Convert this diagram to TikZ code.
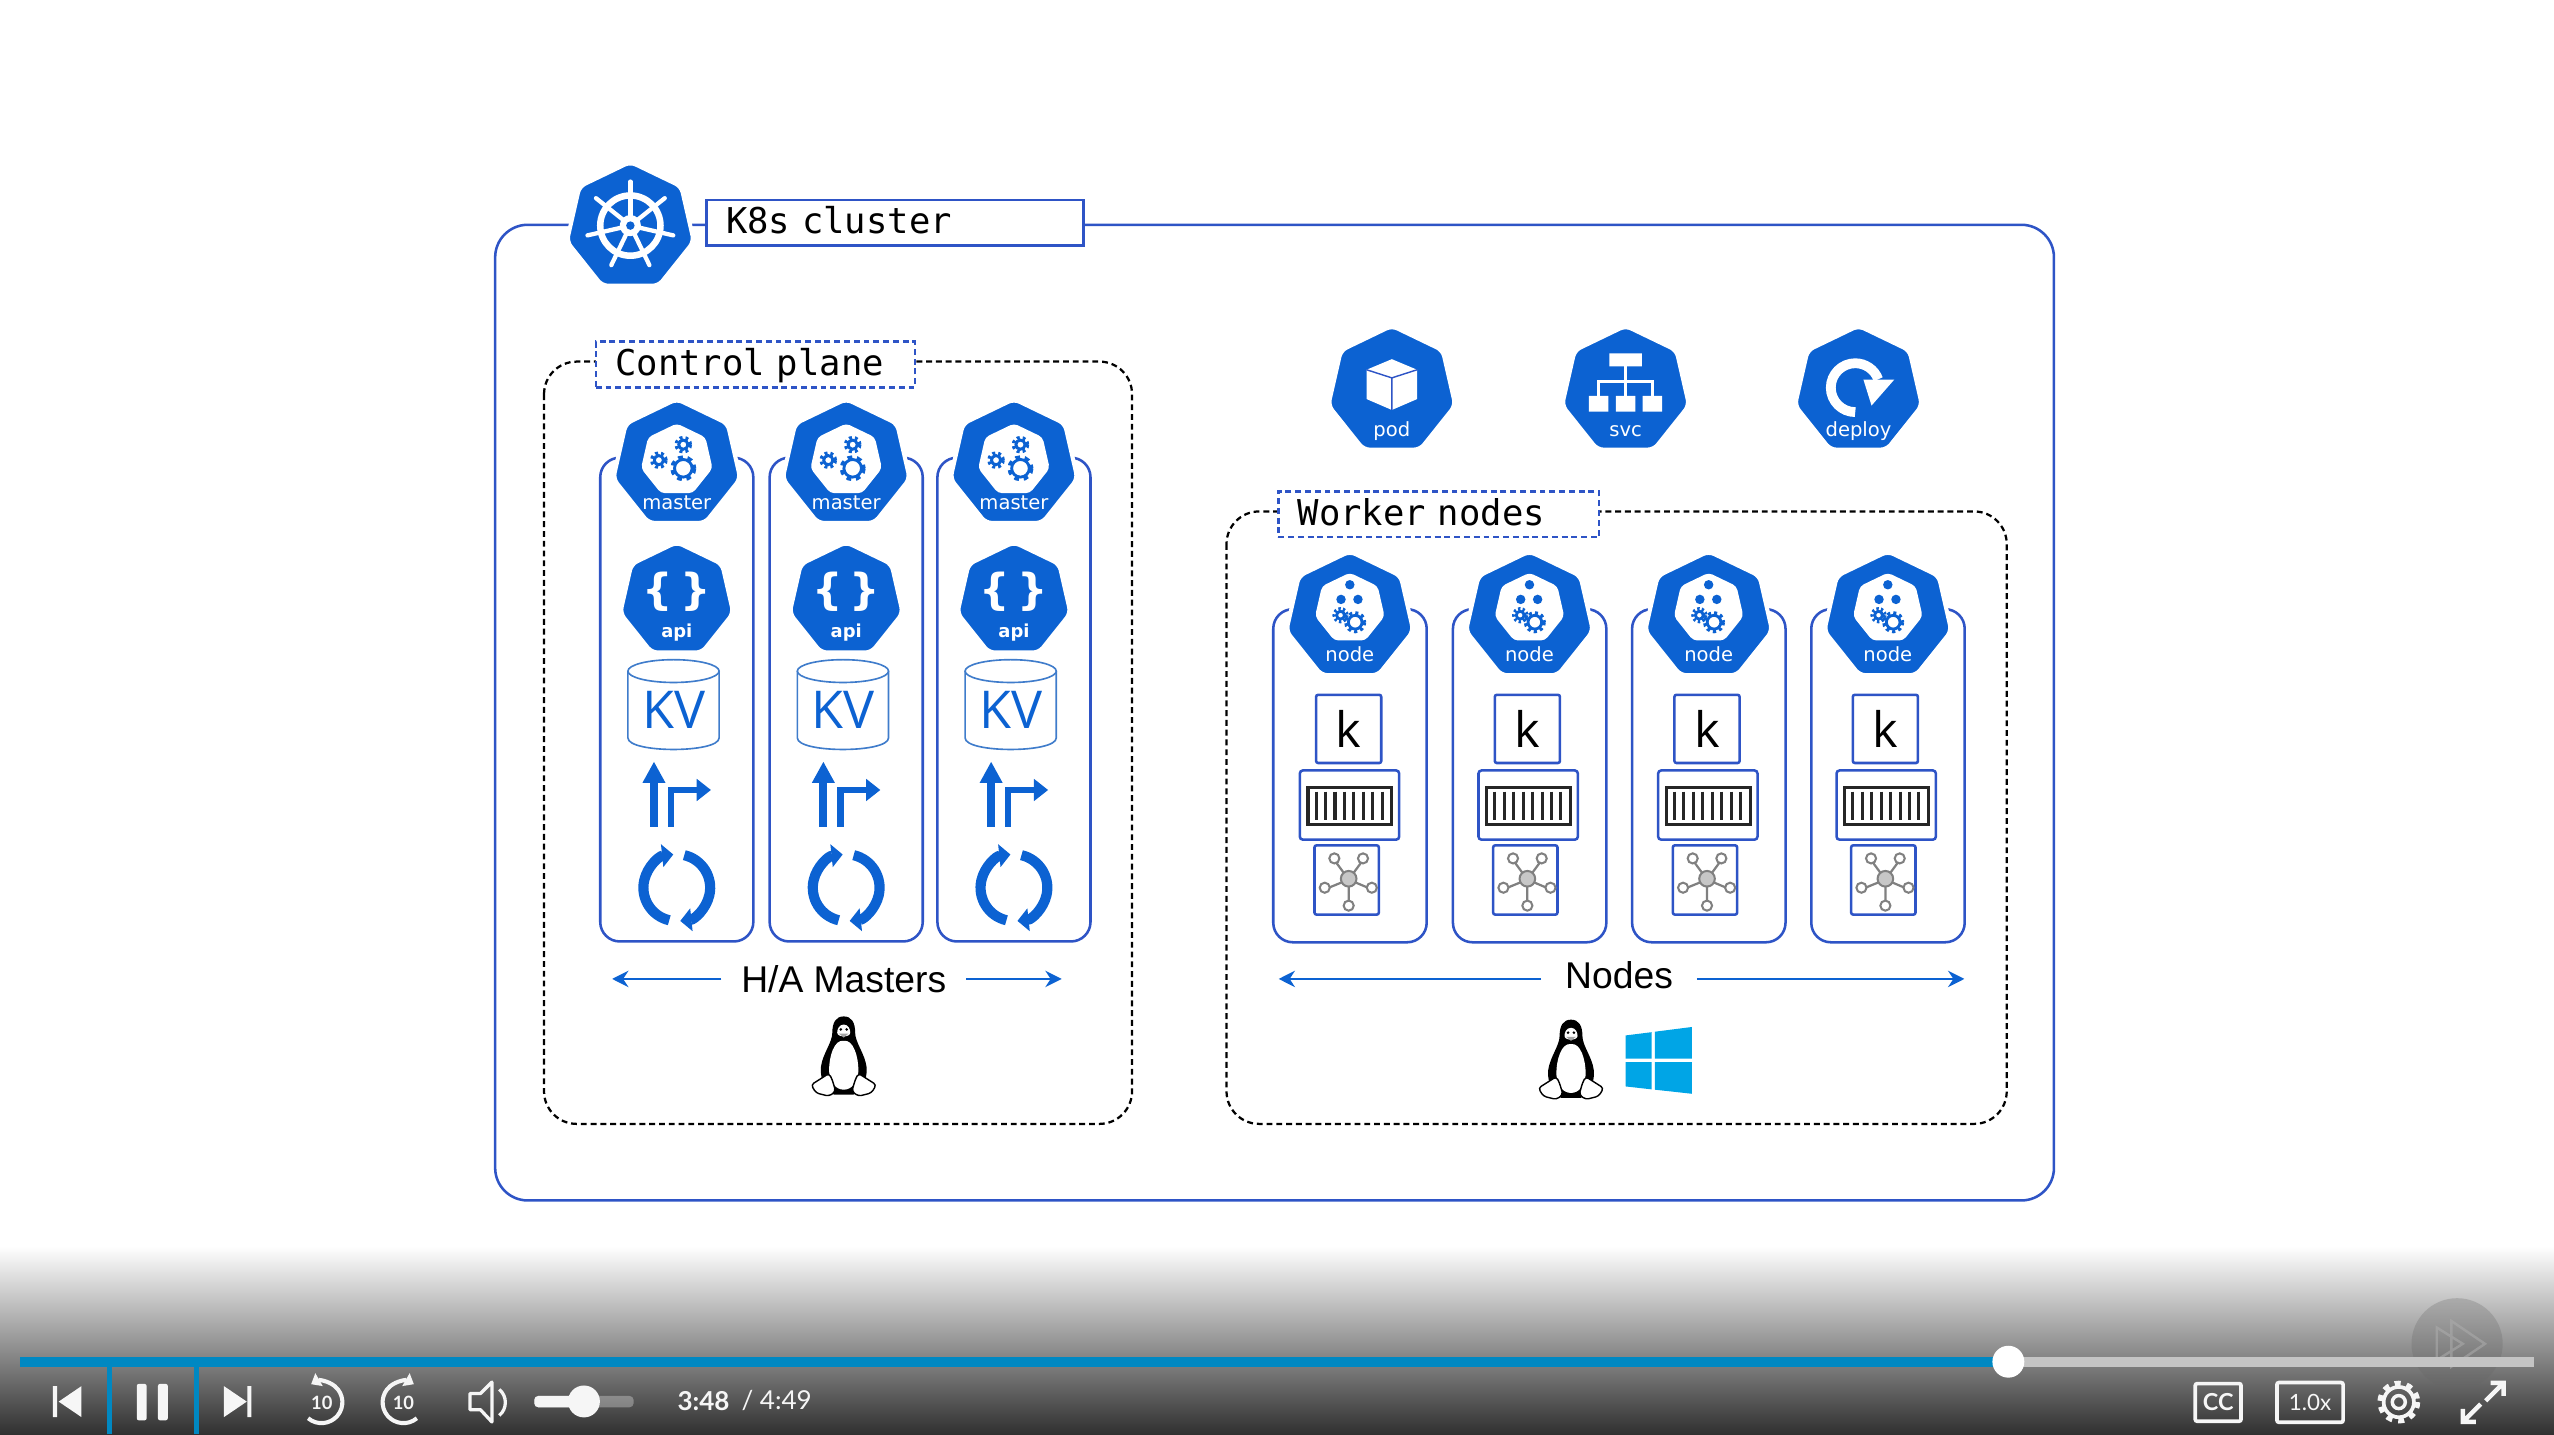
\documentclass[tikz,border=0pt]{standalone}
\usepackage{fontspec}
\setmainfont{Liberation Sans}
\setmonofont{DejaVu Sans Mono}
\newfontfamily\iconfont{DejaVu Sans}
\newfontfamily\kvfont{Open Sans}
\newfontfamily\playerfont{Lato}
\usepackage{tikz}
\usetikzlibrary{shapes.geometric,positioning,arrows.meta,calc}
\definecolor{kubeblue}{HTML}{0C62D2}
\definecolor{frameblue}{HTML}{2E54C6}
\definecolor{kvblue}{HTML}{3F7CCB}
\definecolor{playerblue}{HTML}{0088C2}
\definecolor{winblue}{HTML}{00A5E6}
\definecolor{netgray}{HTML}{808080}
\definecolor{playergray}{HTML}{C4C4C4}
\definecolor{playerwhite}{HTML}{F6F6F6}

% heptagon with its caption: name, position, caption
\def\kubehept#1#2#3{
  \node[hept] (#1) at (#2) {};
  \node[heptlabel] (#1label) at ([yshift=-19.8pt]#1.center) {#3};
}
% cog: position, ring radius, tooth length
\def\cog#1#2#3{
  \path[draw=kubeblue,line width=1.4pt] (#1) circle (#2);
  \path[draw=kubeblue,line width=1.9pt,dash pattern=on #3 off #3] (#1) circle (#2+1.4);
}
% tux: position
\def\tux#1{
  \begin{scope}[shift={(#1)}]
    \path[fill=black] (0,-25) .. controls (5,-25) and (7,-21) .. (7,-15) .. controls (7,-9) and (13,-2) .. (14,6) .. controls (15,14) and (10,21) .. (6,23) -- (-6,23) .. controls (-10,21) and (-15,14) .. (-14,6) .. controls (-13,-2) and (-7,-9) .. (-7,-15) .. controls (-7,-21) and (-5,-25) .. (0,-25) -- cycle;
    \path[fill=white] (0,-10) .. controls (6,-11) and (9,0) .. (9,8) .. controls (9,15) and (5,20) .. (0,20) .. controls (-5,20) and (-9,15) .. (-9,8) .. controls (-9,0) and (-6,-11) .. (0,-10) -- cycle;
    \path[fill=white] (0,-20) .. controls (3,-20) and (4,-17) .. (4,-15) .. controls (4,-12) and (-4,-12) .. (-4,-15) .. controls (-4,-17) and (-3,-20) .. (0,-20) -- cycle;
    \path[fill=black] (-1.8,-17) circle (0.9) (1.8,-17) circle (0.9);
    \path[fill=black!35] (-3,-14.5) -- (3,-14.5) -- (0,-12) -- cycle;
    \path[draw=black,fill=white,line width=0.7pt,rounded corners=1.5pt] (-9,10) -- (-20,17) -- (-17,22) -- (-9,24) -- (-5,21) -- (-7,14) -- cycle;
    \path[draw=black,fill=white,line width=0.7pt,rounded corners=1.5pt] (9,10) -- (20,17) -- (17,22) -- (9,24) -- (5,21) -- (7,14) -- cycle;
  \end{scope}
}

\begin{document}
\begin{tikzpicture}[
    x=0.8pt, y=-0.8pt,
    frameline/.style={draw=frameblue,line width=1.25pt},
    dashframe/.style={draw=black,line width=1.1pt,dash pattern=on 2.9pt off 1.9pt,rounded corners=16pt},
    monotag/.style={anchor=north west,fill=white,inner xsep=9.6pt,inner ysep=3.2pt,align=left,text height=13.5pt,text depth=2.5pt,font=\ttfamily\fontsize{17.45}{20}\selectfont},
    hept/.style={regular polygon,regular polygon sides=7,minimum size=64pt,inner sep=0pt,fill=kubeblue,draw=white,line width=2pt,rounded corners=3pt},
    innerhept/.style={regular polygon,regular polygon sides=7,minimum size=36pt,inner sep=0pt,fill=white,rounded corners=2pt},
    heptlabel/.style={text=white,inner sep=0pt,text height=7pt,text depth=2pt,font=\iconfont\fontsize{9.6}{11}\selectfont},
    sidelabel/.style={inner ysep=0pt,text height=13.2pt,text depth=0pt,font=\fontsize{18.3}{20}\selectfont},
    sidearrow/.style={draw=kubeblue,line width=1.3pt,-{Stealth[length=8pt,width=8pt]}},
    looparrow/.style={draw=kubeblue,line width=5pt,-{Triangle[length=5.5pt,width=11pt]}},
    playerline/.style={draw=playerwhite,line width=1.6pt},
    playertext/.style={text=playerwhite,inner sep=0pt,font=\playerfont\fontsize{12.8}{14}\selectfont}
  ]
  \path[use as bounding box] (0,0) rectangle (1568,880.4);

  % outer frame
  \path[frameline,rounded corners=16pt] (304,138) rectangle (1261,737);
  \kubehept{clusterhept}{387,139.4}{}
  \foreach \spoke in {0,...,6}{
    \path[draw=white,line width=2.1pt,line cap=round] (387,138.5) -- ++({-90+\spoke*360/7}:27);
  }
  \path[draw=white,line width=3.2pt] (387,138.5) circle (18.5);
  \path[fill=white] (387,138.5) circle (6.5);
  \path[fill=kubeblue] (387,138.5) circle (2.6);
  \node[monotag,frameline,text width=166pt] (clustertag) at (433,122) {K8s cluster};

  % control plane
  \path[dashframe] (334,222) rectangle (695,690);
  \node[monotag,frameline,dash pattern=on 2.9pt off 1.9pt,text width=137.6pt] (controltag) at (365,209) {Control plane};

  \foreach \cx/\ci in {415.5/1,519.5/2,622.5/3}{
    \path[frameline,rounded corners=9.6pt] (\cx-47,281) rectangle (\cx+47,578);
    \kubehept{master\ci}{\cx,285}{master}
    \node[innerhept] (masterinner\ci) at (\cx,282.5) {};
    \cog{\cx+4,287.5}{5.4}{2.3pt}
    \cog{\cx-11,282.5}{2.8}{1.4pt}
    \cog{\cx+4,273}{2.8}{1.4pt}
    \node[hept,minimum size=57pt] (api\ci) at (\cx,368.5) {};
    \node[text=white,inner sep=0pt,font=\iconfont\bfseries\fontsize{21}{24}\selectfont] (apibrace\ci) at (\cx,363) {\{\,\}};
    \node[text=white,inner sep=0pt,text height=7pt,text depth=2pt,font=\iconfont\bfseries\fontsize{8.8}{10}\selectfont] (apilabel\ci) at (\cx,388) {api};
    % kv store
    \path[draw=kvblue,line width=0.8pt,fill=white] (\cx-30,412) -- (\cx-30,453) .. controls (\cx-30,462.5) and (\cx+26,462.5) .. (\cx+26,453) -- (\cx+26,412);
    \path[draw=kvblue,line width=0.8pt,fill=white] (\cx-2,412) ellipse (28 and 7);
    \node[text=kubeblue,inner sep=0pt,font=\kvfont\fontsize{25.6}{28}\selectfont] (kv\ci) at (\cx-2,436) {KV};
    % routes
    \path[draw=kubeblue,line width=4pt,-{Triangle[length=10.5pt,width=10.5pt]}] (\cx-14,507.5) -- (\cx-14,467.5);
    \path[draw=kubeblue,line width=3pt,-{Triangle[length=7pt,width=10.5pt]}] (\cx-3.5,507.5) |- (\cx+21,485);
    % loop
    \path[looparrow] ([shift={(103:20.5)}]\cx,545) arc (103:264:20.5);
    \path[looparrow] ([shift={(-77:20.5)}]\cx,545) arc (-77:84:20.5);
  }

  \node[sidelabel,inner xsep=9.6pt] (hamasters) at (518,601) {H/A Masters};
  \coordinate (haleft) at (375.8,601);
  \coordinate (haright) at (651.8,601);
  \path[sidearrow] (hamasters.west |- haleft) -- (haleft);
  \path[sidearrow] (hamasters.east |- haright) -- (haright);
  \tux{518,649}

  % objects
  \kubehept{pod}{854.5,240}{pod}
  \path[fill=white] (854.5,220.5) -- (870,227) -- (870,245) -- (854.5,251.7) -- (839,245) -- (839,227) -- cycle;
  \path[draw=frameblue,line width=0.7pt] (839,227) -- (854.5,232) -- (870,227) (854.5,232) -- (854.5,251.7);
  \kubehept{svc}{998,240}{svc}
  \path[fill=white] (988,217) rectangle (1008,225) (975.5,243) rectangle (987.5,252.7) (992,243) rectangle (1004,252.7) (1008.5,243) rectangle (1020.5,252.7);
  \path[draw=white,line width=1.2pt] (998,225) -- (998,243) (981.5,243) -- (981.5,234.3) -- (1014.5,234.3) -- (1014.5,243);
  \kubehept{deploy}{1141,240}{deploy}
  \path[draw=white,line width=4.8pt] (1139,253) arc (90:340:15);
  \path[fill=white] (1144,233) -- (1163,233) -- (1149,249) -- cycle;

  % worker nodes
  \path[dashframe] (753,314) rectangle (1232,690);
  \node[monotag,frameline,dash pattern=on 2.9pt off 1.9pt,text width=138.4pt] (workertag) at (784,301) {Worker nodes};

  \foreach \cx/\bx/\ci in {828.7/828/1,939/937.7/2,1049/1048/3,1159/1157.5/4}{
    \path[frameline,rounded corners=9.6pt] (\cx-47,374) rectangle (\cx+47.2,578.5);
    \kubehept{worker\ci}{\cx,378.5}{node}
    \node[innerhept,minimum size=35pt] (workerinner\ci) at (\cx,373.5) {};
    \path[fill=kubeblue] (\cx,359) circle (2.9) (\cx-5.4,368) circle (2.9) (\cx+5,368) circle (2.9);
    \cog{\cx+3.3,382}{4.2}{1.5pt}
    \cog{\cx-5.7,377.7}{2.4}{1.1pt}
    % kubelet, runtime, proxy
    \node[draw=frameblue,line width=1.25pt,fill=white,rounded corners=1pt,minimum width=32pt,minimum height=33.5pt,inner sep=0pt,text=black,font=\kvfont\fontsize{24}{26}\selectfont] (kubelet\ci) at (\bx,447.5) {k};
    \path[frameline,rounded corners=1.5pt] (\bx-30,473) rectangle (\bx+31,515.5);
    \path[draw=black!85,line width=1.6pt,fill=white] (\bx-25,483.5) rectangle (\bx+26.5,506);
    \foreach \bar in {0,...,7}{
      \path[draw=black!85,line width=1.5pt] (\bx-20+\bar*5.8,486) -- (\bx-20+\bar*5.8,503.5);
    }
    \path[frameline,rounded corners=1pt] (\bx-21,519) rectangle (\bx+18.5,561.5);
    \path[draw=netgray,line width=1.1pt] (\bx-8.8,528) -- (\bx,540) -- (\bx+8.8,528) (\bx-14.7,546) -- (\bx,540) -- (\bx+14.2,546) (\bx,540) -- (\bx,556);
    \path[draw=netgray,line width=1pt,fill=white] (\bx-8.8,527) circle (3.1) (\bx+8.8,527) circle (3.1) (\bx-14.7,545) circle (3.1) (\bx+14.2,545) circle (3.1) (\bx,556) circle (3.1);
    \path[draw=netgray,line width=1pt,fill=black!22] (\bx,539.5) circle (4.8);
  }

  \node[sidelabel,inner xsep=11.6pt] (nodestext) at (994,598.5) {Nodes};
  \coordinate (nodesleft) at (785,601);
  \coordinate (nodesright) at (1206,601);
  \path[sidearrow] (nodestext.west |- nodesleft) -- (nodesleft);
  \path[sidearrow] (nodestext.east |- nodesright) -- (nodesright);
  \tux{964.5,651}
  \path[fill=winblue] (998,635.7) -- (1014,633.7) -- (1014,650) -- (998,650) -- cycle;
  \path[fill=winblue] (1016,633.4) -- (1038.7,630.5) -- (1038.7,650) -- (1016,650) -- cycle;
  \path[fill=winblue] (998,652) -- (1014,652) -- (1014,668.8) -- (998,667) -- cycle;
  \path[fill=winblue] (1016,652) -- (1038.7,652) -- (1038.7,671.5) -- (1016,669) -- cycle;

  % player bar
  \path[top color=white,bottom color=black!81] (0,765) rectangle (1568,880.4);
  \path[fill=black!60,opacity=0.28] (1508.5,825) circle (28);
  \path[draw=black!32,opacity=0.55,line width=1.2pt] (1505,811) -- (1525.6,825) -- (1505,839) -- cycle (1496,815) -- (1512,825) -- (1496,835) -- cycle;
  \path[fill=playergray] (1233,833) rectangle (1556,839);
  \path[fill=playerblue] (12.3,833) rectangle (1233,839);
  \path[fill=white] (1233,836) circle (9.8);
  \path[draw=playerblue,line width=2.4pt] (67.3,880.4) -- (67.3,838) (120.8,838) -- (120.8,880.4);
  \path[fill=playerwhite] (32.5,851) rectangle (35,870) (50,851) -- (36,860.5) -- (50,870) -- cycle;
  \path[fill=playerwhite,rounded corners=1pt] (84,849.6) rectangle (90,872) (97,849.6) rectangle (103,872);
  \path[fill=playerwhite] (151.8,851) rectangle (154.4,870) (137.5,851) -- (151.5,860.5) -- (137.5,870) -- cycle;
  % skip buttons
  \path[playerline,line width=2pt,-{Triangle[length=4.5pt,width=7pt]}] ([shift={(130:12.8)}]197.4,860.9) arc (130:-120:12.8);
  \path[playerline,line width=2pt,-{Triangle[length=4.5pt,width=7pt]}] ([shift={(50:12.8)}]247.7,860.9) arc (50:300:12.8);
  \node[playertext,font=\playerfont\bfseries\fontsize{9}{10}\selectfont] (backten) at (197.6,861) {10};
  \node[playertext,font=\playerfont\bfseries\fontsize{9}{10}\selectfont] (forwardten) at (247.7,861) {10};
  % volume
  \path[playerline,line join=round] (288.5,855.5) -- (295,855.5) -- (302,848.5) -- (302,873) -- (295,865.5) -- (288.5,865.5) -- cycle;
  \path[playerline] (306.5,853) .. controls (311.5,857) and (311.5,865) .. (306.5,869);
  \path[fill=white,fill opacity=0.3,rounded corners=2pt] (328,857) rectangle (389,864);
  \path[fill=playerwhite,rounded corners=2pt] (328,857) rectangle (358,864);
  \path[fill=playerwhite] (358.5,860.4) circle (9.8);
  \node[playertext,anchor=west,font=\playerfont\bfseries\fontsize{12.8}{14}\selectfont] (elapsed) at (415.7,860) {3:48};
  \node[playertext,anchor=west,text=playerwhite] (total) at (455,860) {/ 4:49};
  % right hand buttons
  \node[draw=playerwhite,line width=1.8pt,rounded corners=1pt,playertext,minimum width=22.5pt,minimum height=18.5pt,font=\playerfont\bfseries\fontsize{11.5}{12}\selectfont] (ccbox) at (1361.8,861) {CC};
  \node[draw=playerwhite,line width=1.8pt,rounded corners=1pt,playertext,minimum width=32.5pt,minimum height=19.5pt,font=\playerfont\fontsize{11}{12}\selectfont] (speedbox) at (1418.2,861) {1.0x};
  \path[draw=playerwhite,line width=1.8pt] (1472.7,860.8) circle (9.3);
  \path[draw=playerwhite,line width=2.6pt,dash pattern=on 2.9pt off 3pt] (1472.7,860.8) circle (11.5);
  \path[draw=playerwhite,line width=1.7pt] (1472.7,860.8) circle (4);
  \coordinate (expandtr) at (1537,849);
  \coordinate (expandbl) at (1512,873);
  \path[draw=playerwhite,line width=2.2pt] (1526,860) -- (expandtr) (1529,849) -- (expandtr) -- (1537,857);
  \path[draw=playerwhite,line width=2.2pt] (1523,862) -- (expandbl) (1520,873) -- (expandbl) -- (1512,865);
\end{tikzpicture}
\end{document}
